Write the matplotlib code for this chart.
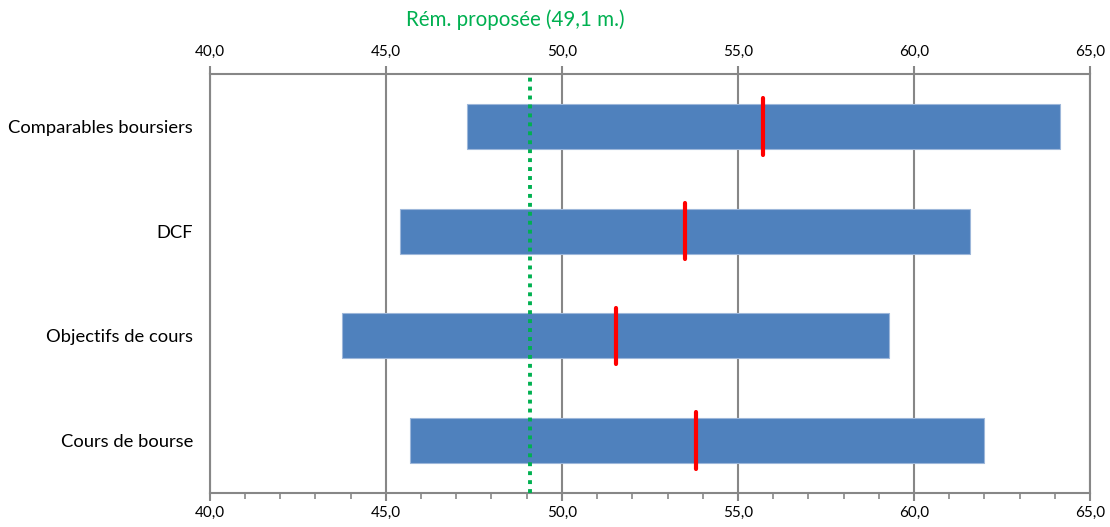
import matplotlib.pyplot as plt
from matplotlib.ticker import MultipleLocator, FuncFormatter

plt.rcParams['font.family'] = ['Lato', 'DejaVu Sans']

# valuation ranges (M), bottom-to-top order on the chart
methods = ["Cours de bourse", "Objectifs de cours", "DCF", "Comparables boursiers"]
low = [45.7, 43.75, 45.4, 47.3]
high = [62.0, 59.3, 61.6, 64.15]
mid = [53.8, 51.55, 53.5, 55.7]
offer = 49.1
offer_label = "Rém. proposée (49,1 m.)"

grey = "#878787"
blue = "#4F81BD"

fig = plt.figure(figsize=(11.1, 5.27), dpi=100)
ax = fig.add_axes([0.189, 0.0645, 0.793, 0.7951])

ypos = list(range(len(methods)))
ax.barh(ypos, [h - l for l, h in zip(low, high)], left=low, height=0.43,
        color=blue, edgecolor="#9DB7DA", linewidth=0.8, zorder=2)
for y, m in zip(ypos, mid):
    ax.plot([m, m], [y - 0.27, y + 0.27], color="#FF0000", lw=3,
            solid_capstyle="round", zorder=4)

ax.axvline(offer, color="#00B050", lw=2.8, ls=(0, (1, 1.3)), zorder=3)

ax.set_xlim(40, 65)
ax.set_ylim(-0.5, len(methods) - 0.5)
ax.set_yticks(ypos)
ax.set_yticklabels(methods, fontsize=13.2)
ax.tick_params(axis="y", length=0, pad=12)

fmt = FuncFormatter(lambda v, p: f"{v:.1f}".replace(".", ","))
ax.xaxis.set_major_locator(MultipleLocator(5))
ax.xaxis.set_minor_locator(MultipleLocator(1))
ax.xaxis.set_major_formatter(fmt)
ax.tick_params(axis="x", which="major", length=6, width=1.5, color=grey,
               labelsize=11, pad=3)
ax.tick_params(axis="x", which="minor", length=4, width=1.2, color=grey)
ax.grid(axis="x", which="major", color=grey, lw=1.5, zorder=1)

top = ax.secondary_xaxis("top")
top.xaxis.set_major_locator(MultipleLocator(5))
top.xaxis.set_major_formatter(fmt)
top.tick_params(axis="x", length=6, width=1.5, color=grey, labelsize=11, pad=5)
top.spines["top"].set_color(grey)
top.spines["top"].set_linewidth(1.5)

for side in ["top", "bottom", "left", "right"]:
    ax.spines[side].set_color(grey)
    ax.spines[side].set_linewidth(1.5)
ax.spines["top"].set_visible(False)

fig.text(0.464, 0.963, offer_label, color="#00B050", fontsize=14.8,
         ha="center", va="center")

fig.savefig("out.png", dpi=100)
